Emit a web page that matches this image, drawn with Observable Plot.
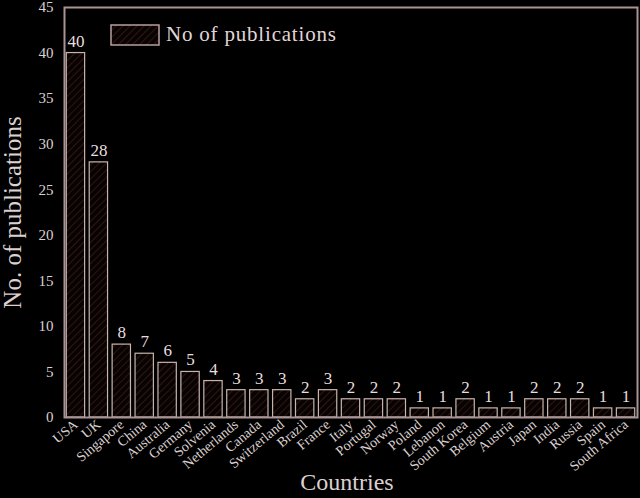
<!DOCTYPE html>
<html>
<head>
<meta charset="utf-8">
<script src="https://cdn.jsdelivr.net/npm/d3@7"></script>
<script src="https://cdn.jsdelivr.net/npm/@observablehq/plot@0.6"></script>
<style>
  html, body { margin: 0; padding: 0; background: #000; }
  #wrap { position: relative; width: 640px; height: 498px; background: #000; }
  #legend { position: absolute; left: 110px; top: 22px; display: flex; align-items: center;
    font-family: "Liberation Serif", "DejaVu Serif", serif; font-size: 21px; letter-spacing: 0.8px; color: #e0d6d6; }
  #legend svg { margin-right: 6px; }
</style>
</head>
<body>
<div id="wrap"><div id="chart"></div>
<div id="legend"><svg width="50" height="22"><defs>
<pattern id="hatchL" patternUnits="userSpaceOnUse" width="5" height="5" patternTransform="rotate(45)">
<rect width="5" height="5" fill="#080303"/><line x1="0" y1="0" x2="0" y2="5" stroke="#4a2018" stroke-width="1.2"/></pattern></defs>
<rect x="1" y="1" width="48" height="20" fill="url(#hatchL)" stroke="#b8a0a0" stroke-width="1.5"/></svg>No of publications</div>
</div>
<script>
const countries = ["USA","UK","Singapore","China","Australia","Germany","Solvenia","Netherlands","Canada","Switzerland","Brazil","France","Italy","Portugal","Norway","Poland","Lebanon","South Korea","Belgium","Austria","Japan","India","Russia","Spain","South Africa"];
const publications = [40,28,8,7,6,5,4,3,3,3,2,3,2,2,2,1,1,2,1,1,2,2,2,1,1];
const yTicks = [0,5,10,15,20,25,30,35,40,45];

const data = countries.map((c, i) => ({country: c, value: publications[i]}));
const serif = "Liberation Serif, DejaVu Serif, serif";
const ink = "#dcd0d0";

const chart = Plot.plot({
  width: 640,
  height: 498,
  marginLeft: 64,
  marginRight: 3,
  marginTop: 7,
  marginBottom: 81,
  style: {background: "#000", color: ink, fontFamily: serif, fontSize: "14px"},
  x: {domain: countries, paddingInner: 0.2, paddingOuter: 0.1, round: false, label: null},
  y: {domain: [0, 45], label: null},
  marks: [
    Plot.barY(data, {x: "country", y: "value", fill: "url(#hatch)", stroke: "#c8b4ac", strokeWidth: 1.2}),
    Plot.text(data, {x: "country", y: "value", text: d => String(d.value), dy: -12, fill: "#e8dede", fontSize: 17}),
    Plot.axisY({ticks: yTicks, tickSize: 0, tickPadding: 11, fontSize: 15, fill: ink}),
    Plot.axisX({tickSize: 0, tickRotate: -40, tickPadding: 5, fontSize: 14, fill: ink}),
    Plot.frame({stroke: "#a89494", strokeWidth: 2}),
    Plot.text(["No. of publications"], {frameAnchor: "left", textAnchor: "middle", rotate: -90, dx: -52, fontSize: 25, fill: ink}),
    Plot.text(["Countries"], {frameAnchor: "bottom", textAnchor: "middle", dx: -4, dy: 72, fontSize: 24, letterSpacing: 0.6, fill: ink})
  ]
});

const defs = d3.select(chart).insert("defs", ":first-child");
const pat = defs.append("pattern").attr("id", "hatch").attr("patternUnits", "userSpaceOnUse")
  .attr("width", 5).attr("height", 5).attr("patternTransform", "rotate(45)");
pat.append("rect").attr("width", 5).attr("height", 5).attr("fill", "#080303");
pat.append("line").attr("x1", 0).attr("y1", 0).attr("x2", 0).attr("y2", 5)
  .attr("stroke", "#4a2018").attr("stroke-width", 1.2);

document.getElementById("chart").appendChild(chart);
</script>
</body>
</html>
